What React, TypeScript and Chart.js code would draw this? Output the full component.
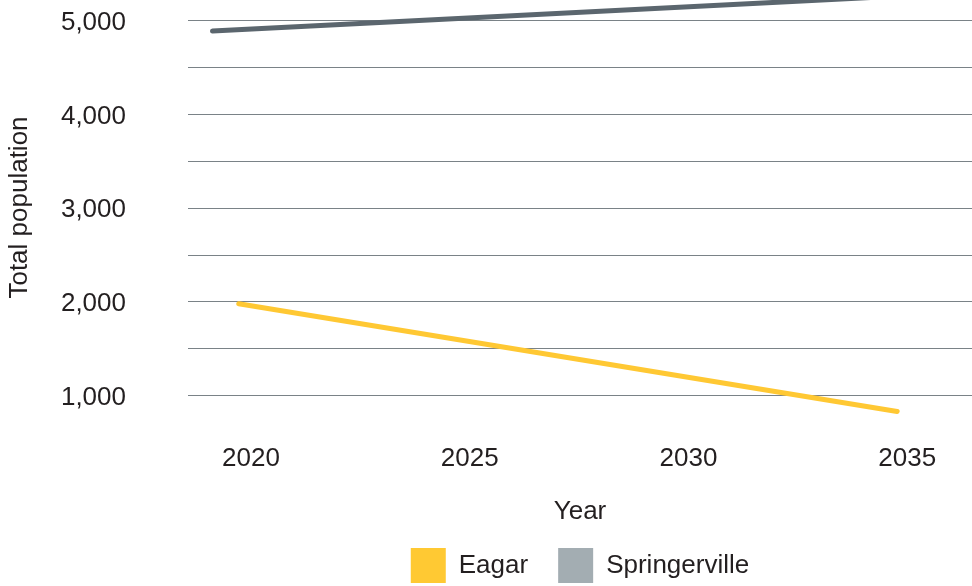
import { useEffect, useRef } from 'react';
import { Chart, registerables } from 'chart.js';

Chart.register(...registerables);

// Tick positions
const xTickYears = [2020, 2025, 2030, 2035];
const yTickValues = [1000, 1500, 2000, 2500, 3000, 3500, 4000, 4500, 5000];

// Population projections
const eagarYears = [2019.72, 2034.77];
const eagarPopulation = [1981, 832];
const springervilleYears = [2019.12, 2034.77];
const springervillePopulation = [4890, 5262];

const FONT = "'Liberation Sans', Arial, Helvetica, sans-serif";
const TEXT = '#231f20';

export default function App() {
  const canvasRef = useRef<HTMLCanvasElement | null>(null);

  useEffect(() => {
    if (!canvasRef.current) return;
    const chart = new Chart(canvasRef.current, {
      type: 'line',
      data: {
        datasets: [
          {
            label: 'Eagar',
            data: eagarYears.map((x, i) => ({ x, y: eagarPopulation[i] })),
            borderColor: '#ffc833',
            backgroundColor: '#ffc933',
            borderWidth: 5,
            borderCapStyle: 'round',
            pointRadius: 0,
            tension: 0,
          },
          {
            label: 'Springerville',
            data: springervilleYears.map((x, i) => ({ x, y: springervillePopulation[i] })),
            borderColor: '#5b666e',
            backgroundColor: '#a3adb2',
            borderWidth: 5,
            borderCapStyle: 'round',
            pointRadius: 0,
            tension: 0,
          },
        ],
      },
      options: {
        animation: false,
        responsive: true,
        maintainAspectRatio: false,
        layout: { padding: 0 },
        plugins: {
          tooltip: { enabled: false },
          legend: {
            position: 'bottom',
            fullSize: false,
            labels: {
              boxWidth: 35,
              boxHeight: 35,
              padding: 30,
              color: TEXT,
              font: { family: FONT, size: 26 },
              generateLabels: (c: any) =>
                c.data.datasets.map((ds: any, i: number) => ({
                  text: ds.label,
                  fillStyle: ds.backgroundColor,
                  strokeStyle: 'rgba(0,0,0,0)',
                  lineWidth: 0,
                  fontColor: TEXT,
                  hidden: false,
                  datasetIndex: i,
                })),
            },
          },
        },
        scales: {
          x: {
            type: 'linear',
            min: 2018.56,
            max: 2036.48,
            grid: { display: false },
            border: { display: false },
            afterBuildTicks: (s: any) => {
              s.ticks = xTickYears.map((v) => ({ value: v }));
            },
            afterFit: (s: any) => {
              s.height = 103;
              s.paddingLeft = 0;
              s.paddingRight = 0;
            },
            ticks: {
              padding: 20,
              color: TEXT,
              font: { family: FONT, size: 26 },
              maxRotation: 0,
              callback: (v: any) => String(v),
            },
            title: {
              display: true,
              text: 'Year',
              color: TEXT,
              font: { family: FONT, size: 26 },
              padding: { top: 0, bottom: -9.6 },
            },
          },
          y: {
            type: 'linear',
            min: 794,
            max: 5221,
            grid: { color: '#7a8287', lineWidth: 1, drawTicks: false },
            border: { display: false },
            afterBuildTicks: (s: any) => {
              s.ticks = yTickValues.map((v) => ({ value: v }));
            },
            afterFit: (s: any) => {
              s.width = 188;
              s.paddingTop = 0;
              s.paddingBottom = 0;
            },
            ticks: {
              padding: 62,
              labelOffset: 2,
              color: TEXT,
              font: { family: FONT, size: 26 },
              callback: (v: any) => (Number(v) % 1000 === 0 ? Number(v).toLocaleString('en-US') : ''),
            },
            title: {
              display: true,
              text: 'Total population',
              color: TEXT,
              font: { family: FONT, size: 26 },
              padding: { top: 4.4, bottom: 0 },
            },
          },
        },
      } as any,
    });
    return () => chart.destroy();
  }, []);

  return (
    <div style={{ position: 'fixed', left: 0, top: 0, width: 972, height: 586, overflow: 'hidden', background: '#fff' }}>
      <div style={{ position: 'relative', width: 972, height: 593 }}>
        <canvas ref={canvasRef} />
      </div>
    </div>
  );
}
